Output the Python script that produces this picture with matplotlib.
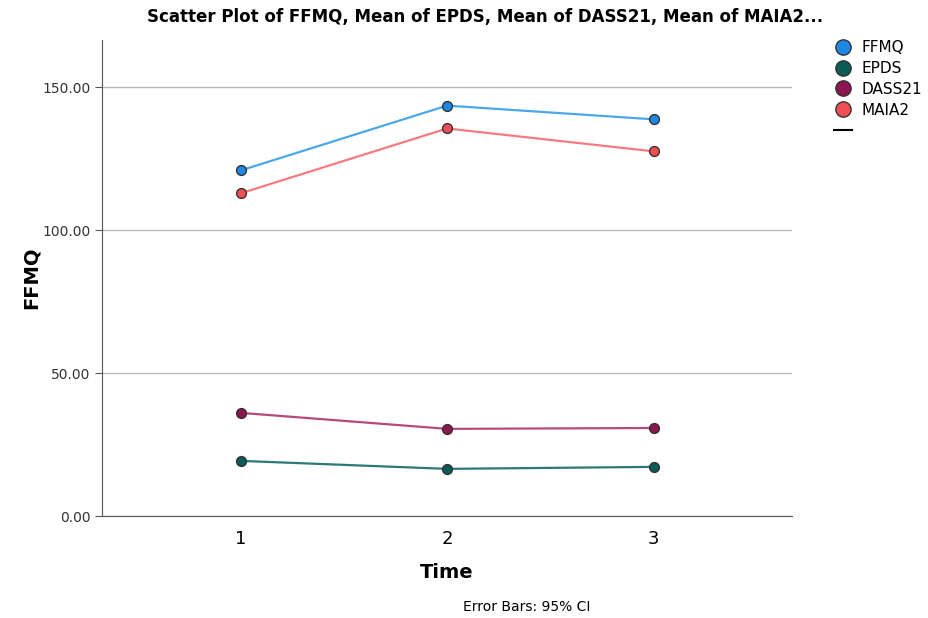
import matplotlib.pyplot as plt
from matplotlib.lines import Line2D

# Mean scores per time point
time = [1, 2, 3]
ffmq = [120.9, 143.6, 138.8]
epds = [19.3, 16.5, 17.2]
dass21 = [36.1, 30.5, 30.8]
maia2 = [112.9, 135.6, 127.6]

series = [
    ("FFMQ", ffmq, "#1e88e5", "#4aa8ea"),
    ("EPDS", epds, "#0b5b57", "#2c7a76"),
    ("DASS21", dass21, "#8c1650", "#b8497d"),
    ("MAIA2", maia2, "#f24e55", "#f87a80"),
]

fig = plt.figure(figsize=(9.29, 6.18), dpi=100)
ax = fig.add_axes([0.110, 0.165, 0.7425, 0.770])

for name, vals, mcol, lcol in series:
    ax.plot(time, vals, color=lcol, lw=1.6, zorder=2)
    ax.scatter(time, vals, s=50, color=mcol, edgecolor="#333333", linewidth=1.0, zorder=3)

ax.set_xlim(0.33, 3.67)
ax.set_ylim(0, 166.5)
ax.set_xticks(time)
ax.set_xticklabels(["1", "2", "3"], fontsize=13)
ax.set_yticks([0, 50, 100, 150])
ax.set_yticklabels(["0.00", "50.00", "100.00", "150.00"], fontsize=10, color="#333333")
ax.yaxis.grid(True, color="#b8b8b8", lw=1)
ax.set_axisbelow(True)
for s in ["top", "right"]:
    ax.spines[s].set_visible(False)
for s in ["left", "bottom"]:
    ax.spines[s].set_color("#555555")
ax.tick_params(axis="both", length=5, color="#555555")
ax.tick_params(axis="x", length=0, pad=10)

ax.set_xlabel("Time", fontsize=14, fontweight="bold", labelpad=11)
ax.set_ylabel("FFMQ", fontsize=14, fontweight="bold", labelpad=1)

fig.text(0.522, 0.972, "Scatter Plot of FFMQ, Mean of EPDS, Mean of DASS21, Mean of MAIA2...",
         ha="center", va="center", fontsize=12, fontweight="bold")
fig.text(0.567, 0.018, "Error Bars: 95% CI", ha="center", va="center", fontsize=10)

handles = [Line2D([], [], ls="", marker="o", ms=11, markerfacecolor=m,
                  markeredgecolor="#333333", label=n) for n, _, m, _ in series]
handles.append(Line2D([], [], color="black", lw=1.5, label=" "))
fig.legend(handles=handles, loc="upper left", bbox_to_anchor=(0.891, 0.945),
           frameon=False, fontsize=11, handlelength=1.2, handletextpad=0.6,
           labelspacing=0.38, borderaxespad=0)

fig.savefig("out.png", dpi=100)
